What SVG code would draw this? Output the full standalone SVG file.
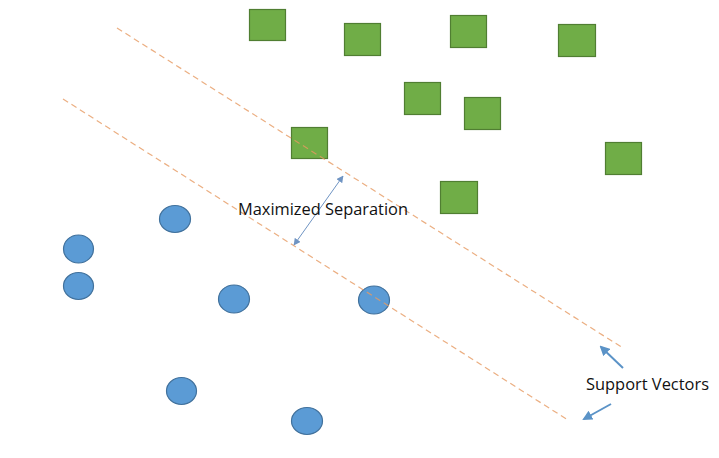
<svg xmlns="http://www.w3.org/2000/svg" width="719" height="458" viewBox="0 0 719 458">
<defs>
<style>
.sq{fill:#70AD47;stroke:#507E32;stroke-width:1.2}
.ci{fill:#5B9BD5;stroke:#41719C;stroke-width:1.2}
.margin{stroke:#E69A62;stroke-width:1.2;stroke-dasharray:6 4;fill:none;stroke-opacity:0.8}
.lbl{font-family:"Open Sans","Liberation Sans",sans-serif;font-size:16.5px;fill:#111}
.sep{stroke:#6F94C3;stroke-width:1;fill:none}
.sv{stroke:#5B93C7;stroke-width:2;fill:none}
</style>
<marker id="ah" viewBox="0 0 10 10" refX="9" refY="5" markerWidth="7" markerHeight="7" orient="auto-start-reverse" markerUnits="userSpaceOnUse">
<path d="M0,0 L10,5 L0,10 Z" fill="#6F94C3"/>
</marker>
<marker id="ah2" viewBox="0 0 10 10" refX="8" refY="5" markerWidth="10" markerHeight="10" orient="auto" markerUnits="userSpaceOnUse">
<path d="M0,0 L10,5 L0,10 Z" fill="#5B93C7"/>
</marker>
</defs>
<rect width="719" height="458" fill="#ffffff"/>
<g id="sq1"><rect class="sq" x="249.5" y="9.5" width="36" height="31"/></g>
<g id="sq2"><rect class="sq" x="344.5" y="23.5" width="36" height="32"/></g>
<g id="sq3"><rect class="sq" x="450.5" y="15.5" width="36" height="32"/></g>
<g id="sq4"><rect class="sq" x="558.5" y="24.5" width="37" height="32"/></g>
<g id="sq5"><rect class="sq" x="404.5" y="82.5" width="36" height="32"/></g>
<g id="sq6"><rect class="sq" x="464.5" y="97.5" width="36" height="32"/></g>
<g id="sq7"><rect class="sq" x="291.5" y="127.5" width="36" height="31"/></g>
<g id="sq8"><rect class="sq" x="605.5" y="142.5" width="36" height="32"/></g>
<g id="sq9"><rect class="sq" x="440.5" y="181.5" width="37" height="32"/></g>
<g id="c1"><ellipse class="ci" cx="175" cy="219" rx="15.5" ry="13.5"/></g>
<g id="c2"><ellipse class="ci" cx="78.5" cy="249" rx="15" ry="14"/></g>
<g id="c3"><ellipse class="ci" cx="78.5" cy="286" rx="15" ry="13.5"/></g>
<g id="c4"><ellipse class="ci" cx="234" cy="299" rx="15.5" ry="14"/></g>
<g id="c5"><ellipse class="ci" cx="374" cy="300" rx="15.5" ry="14"/></g>
<g id="c6"><ellipse class="ci" cx="181.5" cy="391" rx="15" ry="13.5"/></g>
<g id="c7"><ellipse class="ci" cx="307" cy="421" rx="15.5" ry="13.5"/></g>
<g id="connectors">
<line class="margin" x1="117" y1="28" x2="623" y2="348"/>
<line class="margin" x1="63" y1="99" x2="568" y2="420"/>
<line class="sep" x1="343" y1="176" x2="294" y2="245" marker-start="url(#ah)" marker-end="url(#ah)"/>
<line class="sv" x1="623" y1="368" x2="601" y2="347" marker-end="url(#ah2)"/>
<line class="sv" x1="611" y1="404" x2="584" y2="419" marker-end="url(#ah2)"/>
</g>
<g id="label-sep"><text class="lbl" x="238" y="215" textLength="170" lengthAdjust="spacingAndGlyphs">Maximized Separation</text></g>
<g id="label-sv"><text class="lbl" x="586" y="390" textLength="123" lengthAdjust="spacingAndGlyphs">Support Vectors</text></g>
</svg>
